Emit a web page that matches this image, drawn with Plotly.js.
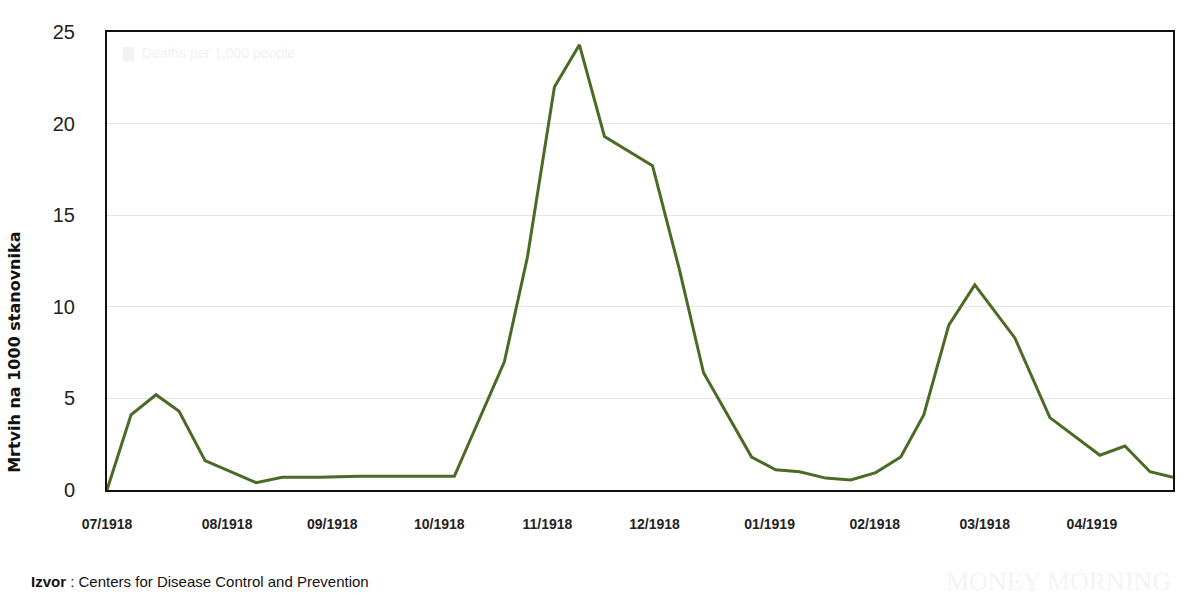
<html><head><script src="https://cdn.plot.ly/plotly-3.0.1.min.js"></script></head><body style="margin:0">
<div id="c" style="width:1193px;height:609px"></div>
<script>
const weeks = [0,0.96,1.96,2.88,3.92,5.96,7.0,8.48,10.08,13.88,15.88,16.8,17.88,18.88,19.88,21.8,22.88,23.84,25.76,26.72,27.68,28.72,29.72,30.72,31.72,32.64,33.64,34.68,36.28,37.68,39.68,40.68,41.68,42.6];
const deaths = [0,4.1,5.2,4.3,1.6,0.4,0.7,0.7,0.75,0.75,7.0,12.7,22.0,24.3,19.3,17.7,12.0,6.4,1.8,1.1,1.0,0.65,0.55,0.95,1.8,4.1,9.0,11.2,8.3,3.95,1.9,2.4,1.0,0.7];
const tickPos = [0,4.8,9,13.28,17.6,21.88,26.48,30.68,35.08,39.36];
const tickText = ['07/1918','08/1918','09/1918','10/1918','11/1918','12/1918','01/1919','02/1918','03/1918','04/1919'];
Plotly.newPlot('c',[{x:weeks,y:deaths,type:'scatter',mode:'lines',line:{color:'#4a6b23',width:3},hoverinfo:'skip'}],{
 width:1193,height:609,margin:{l:107,r:20,t:32,b:119},showlegend:false,
 paper_bgcolor:'#fff',plot_bgcolor:'#fff',
 xaxis:{range:[0,42.6],tickvals:tickPos,ticktext:tickText,showgrid:false,zeroline:false,showline:true,mirror:true,linecolor:'#111',linewidth:2,ticks:'',ticklabelstandoff:20,tickfont:{family:'Arial',size:14,color:'#222',weight:'bold'}},
 yaxis:{range:[0,25],tickvals:[0,5,10,15,20,25],showgrid:true,gridcolor:'#e6e6e6',zeroline:false,showline:true,mirror:true,linecolor:'#111',linewidth:2,ticks:'',ticklabelstandoff:26,tickfont:{family:'Arial',size:20,color:'#222'}},
 annotations:[
  {xref:'paper',yref:'paper',x:-0.087,y:0.3,xanchor:'center',yanchor:'middle',textangle:-90,text:'<b>Mrtvih na 1000 stanovnika</b>',showarrow:false,font:{family:'DejaVu Sans',size:16,color:'#111'}},
  {xref:'paper',yref:'paper',x:0.012,y:0.975,xanchor:'left',text:'▇  Deaths per 1,000 people',showarrow:false,font:{family:'Arial',size:14,color:'#f2f2f2'}},
  {xref:'paper',yref:'paper',x:-0.073,y:-0.2,xanchor:'left',yanchor:'middle',showarrow:false,text:'<b>Izvor</b> : Centers for Disease Control and Prevention',font:{family:'Arial',size:15,color:'#111'}},
  {xref:'paper',yref:'paper',x:1,y:-0.2,xanchor:'right',yanchor:'middle',showarrow:false,text:'MONEY MORNING',font:{family:'Liberation Serif',size:26,color:'#f4f4f4'}}
 ]},{staticPlot:true});
</script></body></html>
